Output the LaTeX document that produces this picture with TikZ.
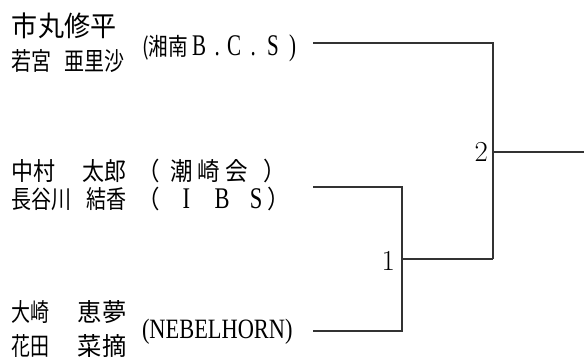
\documentclass[tikz,border=0pt]{standalone}
\usepackage{fontspec}
\usepackage{graphicx}
\newfontfamily\jpf{Noto Sans CJK JP}
\newfontfamily\lsf{Liberation Serif}
\newcommand\JP[3]{\scalebox{#2}[1]{\jpf\fontsize{#1}{#1}\selectfont #3}}
\newcommand\LS[3]{\scalebox{#2}[1]{\lsf\fontsize{#1}{#1}\selectfont #3}}
\newcommand\ovl[2]{\makebox[0pt][l]{\hspace*{#1pt}#2}}
\newcommand\cell[1]{\makebox[22.5pt][c]{#1}}
\begin{document}
\begin{tikzpicture}[x=1pt,y=-1pt,
  txt/.style={anchor=base west, inner sep=0pt, outer sep=0pt},
  num/.style={anchor=base east, inner sep=0pt, outer sep=0pt, font=\fontsize{29}{29}\selectfont},
  br/.style={line width=1.1pt, draw=black!80}]
\useasboundingbox (0,0) rectangle (584,362);
% pair 1
\node[txt] (p1a) at (12,36) {\JP{28}{0.93}{市丸修平}};
\node[txt] (p1b) at (12,70) {\JP{25}{0.8}{若宮}\hspace*{13pt}\JP{25}{0.8}{亜里沙}};
\node[txt] (c1) at (142,55.5) {\ovl{0}{\JP{24}{0.82}{(湘南}}\ovl{50}{\LS{30}{0.7}{B}}\ovl{72.5}{\LS{30}{0.7}{.}}\ovl{85}{\LS{30}{0.7}{C}}\ovl{108.5}{\LS{30}{0.7}{.}}\ovl{125}{\LS{30}{0.7}{S}}\ovl{147}{\LS{30}{0.7}{)}}\hspace*{154pt}};
% pair 2
\node[txt] (p2a) at (12,180) {\JP{25}{0.88}{中村}\hspace*{27pt}\JP{25}{0.88}{太郎}};
\node[txt] (c2a) at (137,180) {\ovl{0}{\JP{25}{0.9}{（}}\ovl{33}{\JP{25}{0.9}{潮}}\ovl{60}{\JP{25}{0.9}{崎}}\ovl{88}{\JP{25}{0.9}{会}}\ovl{126}{\JP{25}{0.9}{）}}\hspace*{148pt}};
\node[txt] (p2b) at (12,208) {\JP{25}{0.8}{長谷川}\hspace*{14pt}\JP{25}{0.8}{結香}};
\node[txt] (c2b) at (137,208) {\ovl{0}{\JP{25}{0.9}{（}}\ovl{38}{\cell{\LS{30}{0.75}{I}}}\ovl{74}{\cell{\LS{30}{0.75}{B}}}\ovl{108}{\cell{\LS{30}{0.75}{S}}}\ovl{130}{\JP{25}{0.9}{）}}\hspace*{152pt}};
% pair 3
\node[txt] (p3a) at (12,321.5) {\JP{25}{0.76}{大崎}\hspace*{28pt}\JP{25}{0.97}{恵夢}};
\node[txt] (p3b) at (12,355) {\JP{25}{0.76}{花田}\hspace*{28pt}\JP{25}{0.97}{菜摘}};
\node[txt] (c3) at (142,338) {\LS{28}{0.8}{(NEBELHORN)}};
% bracket points
\coordinate (a0) at (313,43);
\coordinate (a1) at (493,43);
\coordinate (b0) at (313,187);
\coordinate (b1) at (402,187);
\coordinate (c0) at (313,331);
\coordinate (c1) at (402,331);
\coordinate (m1) at (402,259);
\coordinate (m2) at (493,259);
\coordinate (o0) at (493,152);
\coordinate (o1) at (584,152);
\draw[br] (a0) -- (a1) -- (m2);
\draw[br] (b0) -- (b1) -- (c1) -- (c0);
\draw[br] (m1) -- (m2);
\draw[br] (o0) -- (o1);
\node[num] (n2) at (488,161.5) {2};
\node[num] (n1) at (395,270) {1};
\end{tikzpicture}
\end{document}
